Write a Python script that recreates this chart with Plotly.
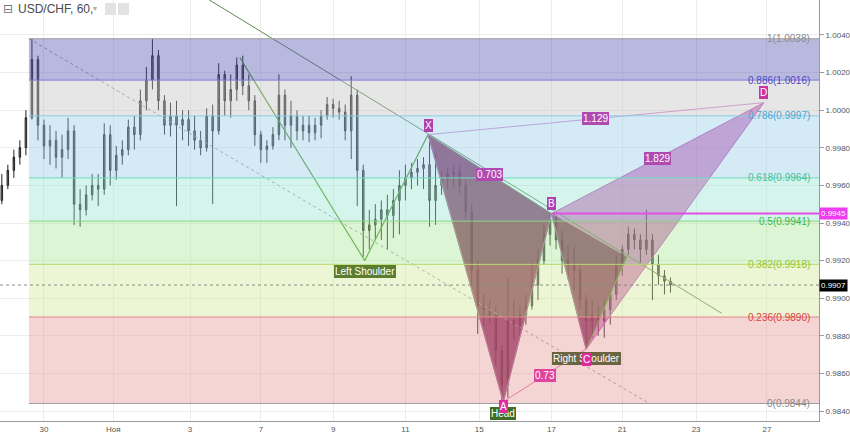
import plotly.graph_objects as go

# ---------------- data ----------------
hours = list(range(-28, 420, 4))  # 4-hour bars, hour index (0 = "30")
opens = [0.9952,0.9960,0.9968,0.9975,0.9980,0.9996,1.0027,0.9992,0.9981,0.9984,
         0.9975,0.9979,0.9989,0.9950,0.9947,0.9955,0.9960,0.9958,0.9987,0.9968,
         0.9976,0.9979,0.9991,0.9987,1.0005,1.0016,1.0029,1.0005,0.9992,0.9997,
         0.9992,0.9995,0.9989,0.9984,0.9980,0.9997,0.9989,1.0019,1.0005,1.0011,
         1.0024,1.0013,1.0005,0.9987,0.9979,0.9981,0.9987,1.0008,0.9992,0.9997,
         0.9989,0.9992,0.9988,0.9992,0.9997,1.0003,1.0001,0.9999,0.9989,1.0008,
         0.9968,0.9936,0.9939,0.9942,0.9947,0.9944,0.9952,0.9960,0.9964,0.9967,
         0.9969,0.9971,0.9952,0.9960,0.9963,0.9966,0.9967,0.9960,0.9946,0.9915,
         0.9896,0.9894,0.9891,0.9872,0.9854,0.9888,0.9886,0.9891,0.9896,0.9907,
         0.9920,0.9934,0.9942,0.9931,0.9920,0.9918,0.9915,0.9899,0.9888,0.9891,
         0.9888,0.9894,0.9902,0.9918,0.9926,0.9934,0.9931,0.9926,0.9931,0.9918,
         0.9912,0.9909]
highs = [0.9966,0.9971,0.9979,0.9984,1.0000,1.0038,1.0029,0.9995,0.9992,0.9989,
         0.9987,0.9996,0.9992,0.9958,0.9960,0.9966,0.9966,0.9993,0.9992,0.9981,
         0.9984,0.9995,0.9997,1.0011,1.0023,1.0038,1.0032,1.0008,1.0004,1.0005,
         1.0000,1.0000,0.9997,0.9989,1.0001,1.0003,1.0025,1.0021,1.0019,1.0028,
         1.0029,1.0019,1.0008,0.9989,0.9984,0.9991,1.0019,1.0011,1.0005,1.0000,
         0.9997,0.9997,0.9996,1.0000,1.0007,1.0006,1.0005,1.0003,1.0018,1.0011,
         0.9971,0.9947,0.9950,0.9952,0.9955,0.9958,0.9968,0.9971,0.9972,0.9974,
         0.9975,0.9987,0.9977,0.9968,0.9969,0.9971,0.9971,0.9963,0.9950,0.9920,
         0.9902,0.9899,0.9896,0.9875,0.9911,0.9899,0.9896,0.9902,0.9919,0.9926,
         0.9939,0.9945,0.9944,0.9936,0.9928,0.9927,0.9918,0.9902,0.9899,0.9896,
         0.9899,0.9904,0.9923,0.9928,0.9938,0.9937,0.9934,0.9947,0.9934,0.9923,
         0.9915,0.9911]
lows = [0.9950,0.9958,0.9964,0.9971,0.9976,0.9995,0.9984,0.9974,0.9971,0.9969,
        0.9964,0.9974,0.9939,0.9938,0.9944,0.9952,0.9949,0.9955,0.9960,0.9963,
        0.9971,0.9976,0.9979,0.9984,1.0000,1.0011,1.0000,0.9987,0.9986,0.9949,
        0.9984,0.9981,0.9979,0.9976,0.9978,0.9950,0.9987,0.9997,0.9996,1.0005,
        1.0008,1.0000,0.9981,0.9972,0.9972,0.9979,0.9984,0.9984,0.9980,0.9984,
        0.9984,0.9983,0.9984,0.9985,0.9995,0.9996,0.9995,0.9984,0.9974,0.9949,
        0.9922,0.9926,0.9931,0.9931,0.9926,0.9932,0.9934,0.9952,0.9958,0.9960,
        0.9958,0.9938,0.9939,0.9955,0.9958,0.9959,0.9955,0.9942,0.9906,0.9881,
        0.9885,0.9886,0.9864,0.9845,0.9847,0.9878,0.9880,0.9886,0.9894,0.9899,
        0.9918,0.9928,0.9926,0.9913,0.9910,0.9904,0.9894,0.9874,0.9879,0.9880,
        0.9879,0.9886,0.9899,0.9912,0.9923,0.9926,0.9919,0.9923,0.9899,0.9907,
        0.9902,0.9903]
closes = [0.9960,0.9968,0.9975,0.9980,0.9996,1.0027,0.9992,0.9981,0.9984,0.9975,
          0.9979,0.9989,0.9950,0.9947,0.9955,0.9960,0.9958,0.9987,0.9968,0.9976,
          0.9979,0.9991,0.9987,1.0005,1.0016,1.0029,1.0005,0.9992,0.9997,0.9992,
          0.9995,0.9989,0.9984,0.9980,0.9997,0.9989,1.0019,1.0005,1.0011,1.0024,
          1.0013,1.0005,0.9987,0.9979,0.9981,0.9987,1.0008,0.9992,0.9997,0.9989,
          0.9992,0.9988,0.9992,0.9997,1.0003,1.0001,0.9999,0.9989,1.0008,0.9968,
          0.9936,0.9939,0.9942,0.9947,0.9944,0.9952,0.9960,0.9964,0.9967,0.9969,
          0.9971,0.9952,0.9960,0.9963,0.9966,0.9967,0.9960,0.9946,0.9915,0.9896,
          0.9894,0.9891,0.9872,0.9854,0.9888,0.9886,0.9891,0.9896,0.9907,0.9920,
          0.9934,0.9942,0.9931,0.9920,0.9918,0.9915,0.9899,0.9888,0.9891,0.9888,
          0.9894,0.9902,0.9918,0.9926,0.9934,0.9931,0.9926,0.9931,0.9918,0.9912,
          0.9909,0.9907]

tick_hours = [0, 46, 97, 144, 192, 240, 289, 337, 384, 433, 480]
tick_text = ["30", "Ноя", "3", "7", "9", "11", "15", "17", "21", "23", "27"]

# Fibonacci retracement
fib_ratios = ["1", "0.886", "0.786", "0.618", "0.5", "0.382", "0.236", "0"]
fib_prices = [1.0038, 1.0016, 0.9997, 0.9964, 0.9941, 0.9918, 0.9890, 0.9844]
fib_start_hour = -10
fib_end_hour = 402
fib_line_colors = ["#a0a0a0", "#7b7bd6", "#8ecbe6", "#74d8c0", "#86d680", "#b8da70", "#e08a8a", "#a0a0a0"]
fib_label_colors = ["#8a8a8a", "#4a4ac8", "#4aa6d6", "#3cc4a0", "#45b845", "#9ac632", "#dd4040", "#8a8a8a"]
fib_band_colors = ["rgba(88,88,178,0.42)", "rgba(192,192,192,0.4)", "rgba(147,202,227,0.4)",
                   "rgba(150,230,207,0.4)", "rgba(167,230,147,0.4)", "rgba(207,230,147,0.4)",
                   "rgba(230,147,147,0.4)"]

# Head and shoulders
hs_hours = [130, 213, 255, 305, 337, 360, 387]
hs_prices = [1.0028, 0.9920, 0.9987, 0.9845, 0.9945, 0.9873, 0.9922]
trend_hours = [109, 450]
trend_prices = [1.0059, 0.9892]

# XABCD pattern
pat_names = ["X", "A", "B", "C", "D"]
pat_hours = [255, 305, 337, 360, 478]
pat_prices = [0.9987, 0.9845, 0.9945, 0.9873, 1.0004]
ratio_xb, ratio_ac, ratio_bd, ratio_xd = "0.703", "0.73", "1.829", "1.129"

last_price = 0.9907
b_level = 0.9945

X_MIN, X_MAX = -29.2, 514.6
Y_MIN, Y_MAX = 0.98347, 1.00586

FONT = "Arial, Liberation Sans, sans-serif"

fig = go.Figure()

# pattern fills
hs_fill = "rgba(50,45,0,0.68)"
for idx in ([2, 3, 4], [4, 5, 6]):
    fig.add_trace(go.Scatter(x=[hs_hours[i] for i in idx] + [hs_hours[idx[0]]],
                             y=[hs_prices[i] for i in idx] + [hs_prices[idx[0]]],
                             fill="toself", fillcolor=hs_fill, mode="none", hoverinfo="skip"))
pat_fill = "rgba(180,0,140,0.45)"
for idx in ([0, 1, 2], [2, 3, 4]):
    fig.add_trace(go.Scatter(x=[pat_hours[i] for i in idx] + [pat_hours[idx[0]]],
                             y=[pat_prices[i] for i in idx] + [pat_prices[idx[0]]],
                             fill="toself", fillcolor=pat_fill, mode="none", hoverinfo="skip"))

# fib trend line (dotted)
fig.add_trace(go.Scatter(x=[fib_start_hour, fib_end_hour], y=[fib_prices[0], fib_prices[-1]],
                         mode="lines", line=dict(color="#9a9a9a", width=1, dash="dot"), hoverinfo="skip"))

# candles
fig.add_trace(go.Candlestick(x=hours, open=opens, high=highs, low=lows, close=closes,
                             increasing=dict(line=dict(color="#222222", width=1), fillcolor="#707070"),
                             decreasing=dict(line=dict(color="#222222", width=1), fillcolor="#707070"),
                             whiskerwidth=0, hoverinfo="skip"))

# trend line
fig.add_trace(go.Scatter(x=trend_hours, y=trend_prices, mode="lines",
                         line=dict(color="#5f8a55", width=1), hoverinfo="skip"))
# H&S polyline
fig.add_trace(go.Scatter(x=hs_hours, y=hs_prices, mode="lines",
                         line=dict(color="#4f9a32", width=1.2), hoverinfo="skip"))
# XABCD lines
fig.add_trace(go.Scatter(x=pat_hours, y=pat_prices, mode="lines",
                         line=dict(color="#c050b8", width=1), hoverinfo="skip"))
for a, b, col in ((0, 2, "#7a7a6a"), (2, 4, "#c050b8"), (1, 3, "#e668b4"), (0, 4, "#d88ad8")):
    fig.add_trace(go.Scatter(x=[pat_hours[a], pat_hours[b]], y=[pat_prices[a], pat_prices[b]],
                             mode="lines", line=dict(color=col, width=1), hoverinfo="skip"))

shapes = []
for i in range(7):
    shapes.append(dict(type="rect", xref="x", yref="y", x0=fib_start_hour, x1=X_MAX,
                       y0=fib_prices[i + 1], y1=fib_prices[i], fillcolor=fib_band_colors[i],
                       line=dict(width=0), layer="above"))
for i, p in enumerate(fib_prices):
    shapes.append(dict(type="line", xref="x", yref="y", x0=fib_start_hour, x1=X_MAX, y0=p, y1=p,
                       line=dict(color=fib_line_colors[i], width=1), layer="above"))
shapes.append(dict(type="line", xref="x", yref="y", x0=pat_hours[2], x1=X_MAX, y0=b_level, y1=b_level,
                   line=dict(color="#e34fe3", width=2), layer="above"))
shapes.append(dict(type="line", xref="x", yref="y", x0=X_MIN, x1=X_MAX, y0=last_price, y1=last_price,
                   line=dict(color="#8a8a8a", width=1, dash="dot"), layer="above"))
# header icons
for x0 in (105, 118):
    shapes.append(dict(type="rect", xref="paper", yref="paper", x0=x0 / 819, x1=(x0 + 11) / 819,
                       y0=1 - 15 / 421, y1=1 - 3 / 421, fillcolor="#e2e2e2", line=dict(width=0)))

ann = []
for i, p in enumerate(fib_prices):
    ann.append(dict(x=510, y=p, xref="x", yref="y", text=f"{fib_ratios[i]}({p:.4f})",
                    showarrow=False, xanchor="right", yanchor="middle",
                    font=dict(family=FONT, size=10, color=fib_label_colors[i])))

def box(x, y, text, bg, yshift=0, xshift=0, size=10):
    return dict(x=x, y=y, xref="x", yref="y", text=text, showarrow=False, bgcolor=bg,
                bordercolor=bg, borderpad=0, borderwidth=1, yshift=yshift, xshift=xshift,
                font=dict(family=FONT, size=size, color="white"))

# H&S labels
ann.append(box(hs_hours[1], hs_prices[1], "Left Shoulder", "#5c7c30", yshift=-11))
ann.append(box(hs_hours[3], hs_prices[3], "Head", "#3e6e28", yshift=-12))
ann.append(box(hs_hours[5], hs_prices[5], "Right Shoulder", "#6c6440", yshift=-10))
# ratio labels
def mid(a, b):
    return (pat_hours[a] + pat_hours[b]) / 2, (pat_prices[a] + pat_prices[b]) / 2
for (a, b), t, col in (((0, 2), ratio_xb, "#b04ab0"), ((1, 3), ratio_ac, "#e0449c"),
                       ((2, 4), ratio_bd, "#b04ab0"), ((0, 4), ratio_xd, "#b04ab0")):
    mx, my = mid(a, b)
    ann.append(box(mx, my, t, col))
# point labels
pt_cols = ["#b040b0", "#e02c9a", "#b040b0", "#e02c9a", "#c8359e"]
pt_shift = [9, -5, 10, -11, 10]
for i, n in enumerate(pat_names):
    ann.append(box(pat_hours[i], pat_prices[i], n, pt_cols[i], yshift=pt_shift[i]))

# axis price boxes
ann.append(dict(x=1, y=b_level, xref="paper", yref="y", text=f"{b_level:.4f}", showarrow=False,
                xanchor="left", bgcolor="#f03cf0", borderpad=1, font=dict(family=FONT, size=8, color="white")))
ann.append(dict(x=1, y=last_price, xref="paper", yref="y", text=f"{last_price:.4f}", showarrow=False,
                xanchor="left", bgcolor="#000000", borderpad=1, font=dict(family=FONT, size=8, color="white")))
# header
ann.append(dict(x=1 / 819, y=1 - 9 / 421, xref="paper", yref="paper", text="⊟", showarrow=False,
                xanchor="left", yanchor="middle", font=dict(family="DejaVu Sans", size=12, color="#777")))
ann.append(dict(x=16 / 819, y=1 - 9 / 421, xref="paper", yref="paper", text="USD/CHF, 60,", showarrow=False,
                xanchor="left", yanchor="middle", font=dict(family=FONT, size=12, color="#4a4a4a")))
ann.append(dict(x=91 / 819, y=1 - 9 / 421, xref="paper", yref="paper", text="▾", showarrow=False,
                xanchor="left", yanchor="middle", font=dict(family="DejaVu Sans", size=8, color="#aaa")))

fig.update_layout(
    width=850, height=433, margin=dict(l=0, r=31, t=0, b=12),
    paper_bgcolor="white", plot_bgcolor="white", showlegend=False,
    shapes=shapes, annotations=ann, boxgap=0.65,
    xaxis=dict(range=[X_MIN, X_MAX], tickvals=tick_hours, ticktext=tick_text, showgrid=True,
               gridcolor="#ededed", showline=True, linecolor="#9a9a9a", ticks="", zeroline=False,
               tickfont=dict(family=FONT, size=8, color="#555"), rangeslider=dict(visible=False)),
    yaxis=dict(side="right", range=[Y_MIN, Y_MAX], dtick=0.002, tick0=0.984, tickformat=".4f",
               showgrid=True, gridcolor="#ededed", showline=True, linecolor="#9a9a9a",
               ticks="outside", ticklen=4, tickcolor="#9a9a9a", zeroline=False,
               tickfont=dict(family=FONT, size=8, color="#555")),
)

fig.write_html("out.html", config=dict(displayModeBar=False),
               post_script="document.body.style.margin='0';document.body.style.overflow='hidden';")
